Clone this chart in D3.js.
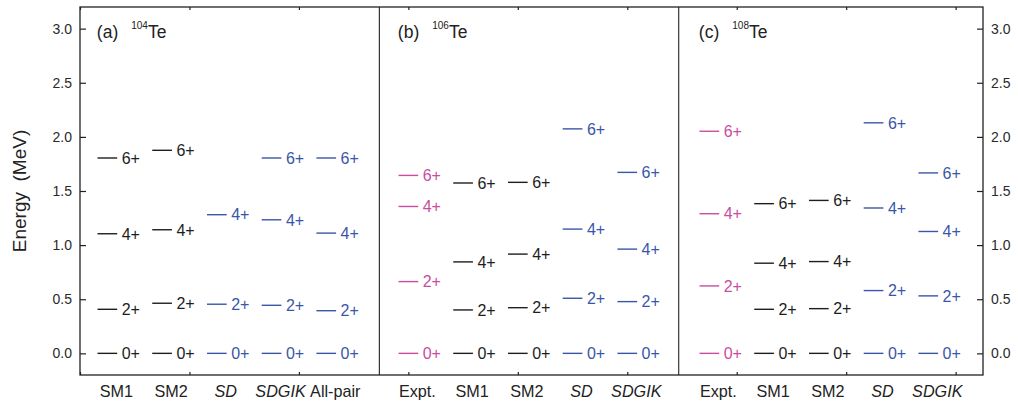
<!DOCTYPE html>
<html>
<head>
<meta charset="utf-8">
<script src="https://cdn.jsdelivr.net/npm/d3@7"></script>
<style>
	body { margin: 0; background: #fff; }
	svg { display: block; font-family: 'Liberation Sans', Arial, sans-serif; }
</style>
</head>
<body>
<svg id="chart" width="1018" height="403"></svg>
<script>
// level scheme data, MeV, ordered 0+, 2+, 4+, 6+
const spins = ['0+', '2+', '4+', '6+'];
const panelTags = ['(a)', '(b)', '(c)'];
const massNumbers = ['104', '106', '108'];
const yTicks = [0, 0.5, 1, 1.5, 2, 2.5, 3];

const te104Models = ['SM1', 'SM2', 'SD', 'SDGIK', 'All-pair'];
const te104Levels = [
	[0, 0.407, 1.105, 1.805],
	[0, 0.463, 1.142, 1.876],
	[0, 0.454, 1.281],
	[0, 0.444, 1.234, 1.805],
	[0, 0.394, 1.111, 1.805]
];

const te106Models = ['Expt.', 'SM1', 'SM2', 'SD', 'SDGIK'];
const te106Levels = [
	[0, 0.663, 1.357, 1.644],
	[0, 0.401, 0.845, 1.574],
	[0, 0.422, 0.917, 1.58],
	[0, 0.509, 1.148, 2.074],
	[0, 0.478, 0.963, 1.672]
];

const te108Models = ['Expt.', 'SM1', 'SM2', 'SD', 'SDGIK'];
const te108Levels = [
	[0, 0.623, 1.29, 2.052],
	[0, 0.407, 0.833, 1.383],
	[0, 0.413, 0.848, 1.413],
	[0, 0.58, 1.343, 2.13],
	[0, 0.531, 1.126, 1.667]
];

const panelStarts = [0, 5.5, 11];
const panelModels = [te104Models, te106Models, te108Models];
const panelLevels = [te104Levels, te106Levels, te108Levels];

const COLORS = { expt: '#c94d9f', sm: '#1e1e1e', ibm: '#3a56a8' };
function modelKind(name) {
	if (name === 'Expt.') return 'expt';
	if (name.startsWith('SM')) return 'sm';
	return 'ibm';
}
const italicModels = ['SD', 'SDGIK'];

const margin = { top: 7, right: 35, bottom: 28, left: 80 };
const totalWidth = 1018;
const totalHeight = 403;
const width = totalWidth - margin.left - margin.right;
const height = totalHeight - margin.top - margin.bottom;

const xScale = d3.scaleLinear([-0.5, 16], [0, width]);
const yScale = d3.scaleLinear([-0.2, 3.2], [height, 0]);

const svg = d3.select('#chart');
const g = svg.append('g').attr('transform', `translate(${margin.left}, ${margin.top})`);

/** AXES ********************************************************************/
const leftAxis = d3.axisRight(yScale).tickValues(yTicks).tickSize(6).tickFormat('');
g.append('g').call(leftAxis);
g.selectAll('.domain').remove();

const rightAxis = d3.axisLeft(yScale).tickValues(yTicks).tickSize(6).tickFormat('');
g.append('g').attr('transform', `translate(${width}, 0)`).call(rightAxis)
	.select('.domain').remove();

const xTicks = d3.range(-0.5, 16, 2);
g.append('g').call(d3.axisBottom(xScale).tickValues(xTicks).tickSize(3).tickFormat(''))
	.select('.domain').remove();
g.append('g').attr('transform', `translate(0, ${height})`)
	.call(d3.axisTop(xScale).tickValues(xTicks).tickSize(3).tickFormat(''))
	.select('.domain').remove();

g.selectAll('.tick line').attr('stroke', '#222').attr('stroke-width', 1.2);

// tick labels on both sides
const fmt = d3.format('.1f');
g.append('g').selectAll('text').data(yTicks).join('text')
	.attr('x', -8).attr('y', (d) => yScale(d)).attr('dy', '0.35em')
	.attr('text-anchor', 'end').attr('font-size', 14).attr('fill', '#2a2a2a')
	.text(fmt);
g.append('g').selectAll('text').data(yTicks).join('text')
	.attr('x', width + 8).attr('y', (d) => yScale(d)).attr('dy', '0.35em')
	.attr('text-anchor', 'start').attr('font-size', 14).attr('fill', '#2a2a2a')
	.text(fmt);

// frame and panel dividers
g.append('rect').attr('width', width).attr('height', height)
	.attr('fill', 'none').attr('stroke', '#222').attr('stroke-width', 1.3);
[4.97, 10.44].forEach((d) => {
	g.append('line').attr('x1', xScale(d)).attr('x2', xScale(d))
		.attr('y1', 0).attr('y2', height)
		.attr('stroke', '#222').attr('stroke-width', 1.1);
});

svg.append('text')
	.attr('transform', `translate(26, ${margin.top + height / 2}) rotate(-90)`)
	.attr('text-anchor', 'middle').attr('font-size', 19).attr('fill', '#222')
	.attr('xml:space', 'preserve')
	.text('Energy  (MeV)');

/** LEVELS ******************************************************************/
const HALF_LINE = 0.18;

panelModels.forEach((models, p) => {
	const pg = g.append('g').attr('class', 'panel');
	const title = pg.append('text')
		.attr('x', xScale(panelStarts[p]) - 10.5)
		.attr('y', 37.5 - margin.top)
		.attr('fill', '#222');
	title.append('tspan').attr('font-size', 17.5).text(panelTags[p]);
	title.append('tspan').attr('font-size', 10).attr('dx', 13).attr('dy', -9)
		.text(massNumbers[p]);
	title.append('tspan').attr('font-size', 17.5).attr('dy', 9).text('Te');

	models.forEach((name, i) => {
		const cx = panelStarts[p] + i;
		const color = COLORS[modelKind(name)];
		const levels = panelLevels[p][i].map((e, j) => ({ e, spin: spins[j] }));

		pg.append('g').selectAll('line').data(levels).join('line')
			.attr('x1', xScale(cx - HALF_LINE)).attr('x2', xScale(cx + HALF_LINE))
			.attr('y1', (d) => yScale(d.e)).attr('y2', (d) => yScale(d.e))
			.attr('stroke', color).attr('stroke-width', 1.4);

		pg.append('g').selectAll('text').data(levels).join('text')
			.attr('x', xScale(cx + HALF_LINE) + 4.5)
			.attr('y', (d) => yScale(d.e)).attr('dy', '0.36em')
			.attr('font-size', 16).attr('fill', color)
			.text((d) => d.spin);

		pg.append('text')
			.attr('x', xScale(cx) + 9).attr('y', height + 21.5)
			.attr('text-anchor', 'middle').attr('font-size', 16.2).attr('fill', '#222')
			.attr('font-style', italicModels.includes(name) ? 'italic' : 'normal')
			.text(name);
	});
});
</script>
</body>
</html>
